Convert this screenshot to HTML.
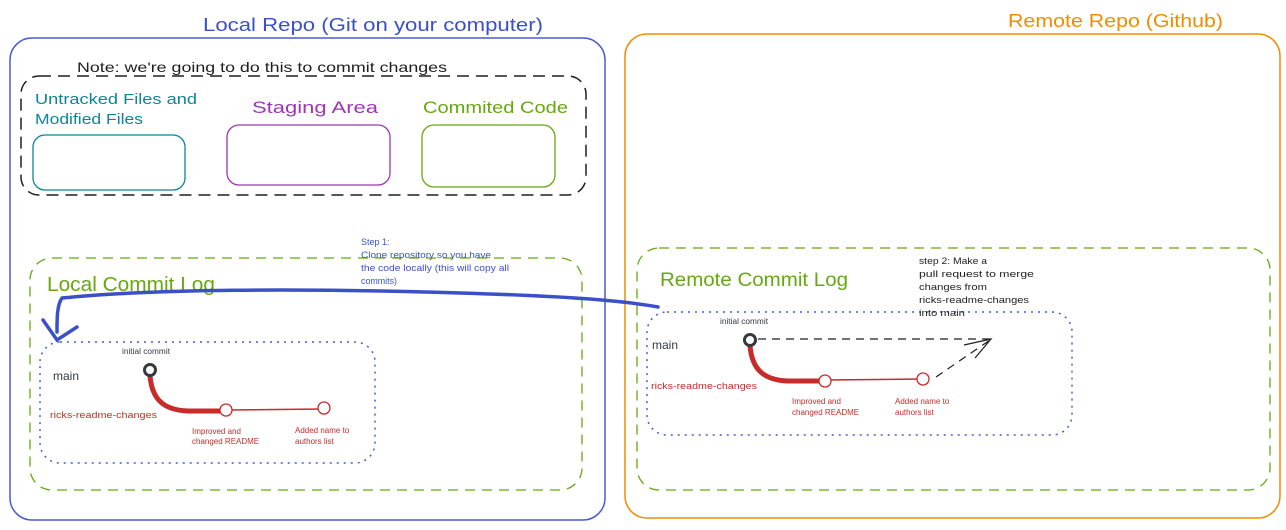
<!DOCTYPE html>
<html><head><meta charset="utf-8"><style>
html,body{margin:0;padding:0;background:#fff;}
svg{display:block;font-family:"Liberation Sans",sans-serif;}
</style></head><body>
<svg width="1286" height="530" viewBox="0 0 1286 530" xmlns="http://www.w3.org/2000/svg">
<rect width="1286" height="530" fill="#fff"/>
<!-- Local repo -->
<text x="203" y="31" font-size="18" fill="#3b50c8" textLength="340" lengthAdjust="spacingAndGlyphs">Local Repo (Git on your computer)</text>
<rect x="10" y="38" width="595" height="482" rx="22" fill="none" stroke="#4a5bcf" stroke-width="1.5"/>
<!-- Remote repo -->
<text x="1008" y="27" font-size="18" fill="#f08c00" textLength="215" lengthAdjust="spacingAndGlyphs">Remote Repo (Github)</text>
<rect x="625" y="34" width="655" height="484" rx="22" fill="none" stroke="#f08c00" stroke-width="1.5"/>
<!-- Note box -->
<text x="77" y="72" font-size="14" fill="#1e1e1e" textLength="370" lengthAdjust="spacingAndGlyphs">Note: we're going to do this to commit changes</text>
<rect x="21" y="76" width="565" height="119" rx="18" fill="none" stroke="#1e1e1e" stroke-width="1.5" stroke-dasharray="12 7"/>
<text x="35" y="104" font-size="15" fill="#0c8599" textLength="162" lengthAdjust="spacingAndGlyphs">Untracked Files and</text>
<text x="35" y="124" font-size="15" fill="#0c8599" textLength="108" lengthAdjust="spacingAndGlyphs">Modified Files</text>
<rect x="33" y="135" width="152" height="55" rx="12" fill="none" stroke="#0c8599" stroke-width="1.3"/>
<text x="252" y="113" font-size="17" fill="#9c36b5" textLength="126" lengthAdjust="spacingAndGlyphs">Staging Area</text>
<rect x="227" y="125" width="163" height="60" rx="12" fill="none" stroke="#9c36b5" stroke-width="1.3"/>
<text x="423" y="113" font-size="17" fill="#66a80f" textLength="145" lengthAdjust="spacingAndGlyphs">Commited Code</text>
<rect x="422" y="125" width="133" height="62" rx="12" fill="none" stroke="#66a80f" stroke-width="1.3"/>
<!-- Local commit log -->
<rect x="30" y="258" width="552" height="232" rx="22" fill="none" stroke="#66a80f" stroke-width="1.3" stroke-dasharray="10 7"/>
<text x="47" y="291" font-size="20" fill="#66a80f" textLength="168" lengthAdjust="spacingAndGlyphs">Local Commit Log</text>
<rect x="40" y="342" width="335" height="121" rx="20" fill="none" stroke="#4a5bcf" stroke-width="1.5" stroke-dasharray="2 5"/>
<text x="53" y="380" font-size="12" fill="#343a40">main</text>
<text x="122" y="354" font-size="8" fill="#343a40" textLength="48" lengthAdjust="spacingAndGlyphs">initial commit</text>
<path d="M150 376 C152 398 162 410 188 411 L225 411" fill="none" stroke="#c92a2a" stroke-width="5"/>
<line x1="225" y1="410" x2="323" y2="409" stroke="#c92a2a" stroke-width="1.5"/>
<circle cx="150" cy="370" r="5.5" fill="none" stroke="#343a40" stroke-width="3"/>
<circle cx="226" cy="410" r="6" fill="#fff" stroke="#c92a2a" stroke-width="1.3"/>
<circle cx="324" cy="408" r="6" fill="#fff" stroke="#c92a2a" stroke-width="1.3"/>
<text x="50" y="418" font-size="9.5" fill="#c92a2a" textLength="107" lengthAdjust="spacingAndGlyphs">ricks-readme-changes</text>
<text x="192" y="434" font-size="8" fill="#c92a2a">Improved and</text>
<text x="192" y="444" font-size="8" fill="#c92a2a">changed README</text>
<text x="295" y="433" font-size="8" fill="#c92a2a">Added name to</text>
<text x="295" y="444" font-size="8" fill="#c92a2a">authors list</text>
<!-- step 1 -->
<g font-size="9" fill="#3b50c8">
<text x="361" y="245">Step 1:</text>
<text x="361" y="258" textLength="130" lengthAdjust="spacingAndGlyphs">Clone repository so you have</text>
<text x="361" y="271" textLength="148" lengthAdjust="spacingAndGlyphs">the code locally (this will copy all</text>
<text x="361" y="284" textLength="36" lengthAdjust="spacingAndGlyphs">commits)</text>
</g>
<path d="M658 307 C620 300 560 296 460 293 C300 288 150 289 62 298 C57 305 57 318 57 332" fill="none" stroke="#3b50c8" stroke-width="3.5" stroke-linecap="round"/>
<path d="M43 320 L57 340 L77 327" fill="none" stroke="#3b50c8" stroke-width="3.5" stroke-linecap="round"/>
<!-- Remote commit log -->
<rect x="637" y="248" width="633" height="242" rx="22" fill="none" stroke="#66a80f" stroke-width="1.3" stroke-dasharray="10 7"/>
<text x="660" y="286" font-size="19" fill="#66a80f" textLength="188" lengthAdjust="spacingAndGlyphs">Remote Commit Log</text>
<rect x="647" y="312" width="425" height="123" rx="20" fill="none" stroke="#4a5bcf" stroke-width="1.5" stroke-dasharray="2 5"/>
<text x="652" y="349" font-size="12" fill="#343a40">main</text>
<text x="720" y="324" font-size="8" fill="#343a40" textLength="48" lengthAdjust="spacingAndGlyphs">initial commit</text>
<g font-size="9.5" fill="#1e1e1e">
<text x="919" y="264" textLength="68" lengthAdjust="spacingAndGlyphs">step 2: Make a</text>
<text x="919" y="277" textLength="115" lengthAdjust="spacingAndGlyphs">pull request to merge</text>
<text x="919" y="290" textLength="68" lengthAdjust="spacingAndGlyphs">changes from</text>
<text x="919" y="303" textLength="110" lengthAdjust="spacingAndGlyphs">ricks-readme-changes</text>
<text x="919" y="316" textLength="46" lengthAdjust="spacingAndGlyphs">into main</text>
</g>
<line x1="758" y1="339" x2="990" y2="339" stroke="#1e1e1e" stroke-width="1.2" stroke-dasharray="8 6"/>
<line x1="936" y1="377" x2="990" y2="340" stroke="#1e1e1e" stroke-width="1.2" stroke-dasharray="8 6"/>
<path d="M964 345 L991 339 L975 358" fill="none" stroke="#1e1e1e" stroke-width="1.2"/>
<path d="M750 346 C752 368 762 380 788 381 L824 381" fill="none" stroke="#c92a2a" stroke-width="5"/>
<line x1="824" y1="380" x2="921" y2="379" stroke="#c92a2a" stroke-width="1.5"/>
<circle cx="750" cy="340" r="5.5" fill="none" stroke="#343a40" stroke-width="3"/>
<circle cx="825" cy="381" r="6" fill="#fff" stroke="#c92a2a" stroke-width="1.3"/>
<circle cx="923" cy="379" r="6" fill="#fff" stroke="#c92a2a" stroke-width="1.3"/>
<text x="651" y="389" font-size="9.5" fill="#c92a2a" textLength="106" lengthAdjust="spacingAndGlyphs">ricks-readme-changes</text>
<text x="792" y="404" font-size="8" fill="#c92a2a">Improved and</text>
<text x="792" y="415" font-size="8" fill="#c92a2a">changed README</text>
<text x="895" y="404" font-size="8" fill="#c92a2a">Added name to</text>
<text x="895" y="415" font-size="8" fill="#c92a2a">authors list</text>
</svg>
</body></html>
